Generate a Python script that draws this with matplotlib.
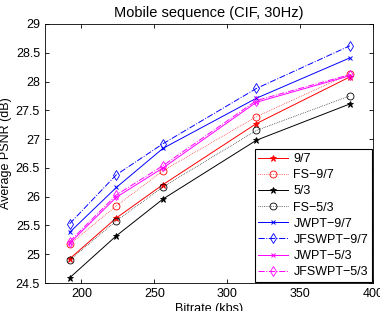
import numpy as np
import matplotlib.pyplot as plt

plt.rcParams['font.family'] = ['Liberation Sans', 'DejaVu Sans']

bitrate = [192, 224, 256, 320, 384]

psnr_97 = [24.92, 25.63, 26.21, 27.27, 28.08]
psnr_fs97 = [25.17, 25.84, 26.45, 27.39, 28.13]
psnr_53 = [24.59, 25.32, 25.96, 26.98, 27.61]
psnr_fs53 = [24.90, 25.58, 26.17, 27.15, 27.75]
psnr_jwpt97 = [25.38, 26.16, 26.84, 27.71, 28.41]
psnr_jfswpt97 = [25.53, 26.38, 26.92, 27.88, 28.62]
psnr_jwpt53 = [25.19, 25.99, 26.50, 27.64, 28.10]
psnr_jfswpt53 = [25.22, 26.03, 26.54, 27.67, 28.12]

fig = plt.figure(figsize=(3.8, 3.11), dpi=100)
ax = fig.add_axes([0.118, 0.09, 0.864, 0.833])

lw = 0.7
ax.plot(bitrate, psnr_97, color='red', ls='-', lw=lw, marker='*', ms=4.5,
        mew=0.6, label='9/7')
ax.plot(bitrate, psnr_fs97, color='red', ls=':', lw=0.5, marker='o', ms=5,
        mew=0.6, mfc='none', label='FS\u22129/7')
ax.plot(bitrate, psnr_53, color='black', ls='-', lw=lw, marker='*', ms=4.5,
        mew=0.6, label='5/3')
ax.plot(bitrate, psnr_fs53, color='black', ls=':', lw=0.5, marker='o', ms=5,
        mew=0.6, mfc='none', label='FS\u22125/3')
ax.plot(bitrate, psnr_jwpt97, color='blue', ls='-', lw=lw, marker='x', ms=3.5,
        mew=0.7, label='JWPT\u22129/7')
ax.plot(bitrate, psnr_jfswpt97, color='blue', ls='-.', lw=lw, marker='d', ms=5,
        mew=0.6, mfc='none', label='JFSWPT\u22129/7')
ax.plot(bitrate, psnr_jwpt53, color='magenta', ls='-', lw=lw, marker='x', ms=3.5,
        mew=0.7, label='JWPT\u22125/3')
ax.plot(bitrate, psnr_jfswpt53, color='magenta', ls='-.', lw=lw, marker='d', ms=5,
        mew=0.6, mfc='none', label='JFSWPT\u22125/3')

ax.set_xlim(175, 400)
ax.set_ylim(24.5, 29)
ax.set_xticks([200, 250, 300, 350, 400])
ax.set_yticks(np.arange(24.5, 29.01, 0.5))
ax.set_yticklabels(['24.5', '25', '25.5', '26', '26.5', '27', '27.5', '28', '28.5', '29'])
ax.tick_params(direction='in', labelsize=9, top=True, right=True, length=3,
               width=0.6)
for s in ax.spines.values():
    s.set_linewidth(0.6)
ax.set_xlabel('Bitrate (kbs)', fontsize=9, labelpad=2)
ax.set_ylabel('Average PSNR (dB)', fontsize=9, labelpad=3)
ax.set_title('Mobile sequence (CIF, 30Hz)', fontsize=10.5, pad=5)

leg = ax.legend(loc='lower right', fontsize=9, fancybox=False, framealpha=1,
                edgecolor='black', borderaxespad=0.1, handlelength=2.4,
                labelspacing=0.33, borderpad=0.3, handletextpad=0.4)
leg.get_frame().set_linewidth(0.8)

fig.savefig('out.png', dpi=100)
